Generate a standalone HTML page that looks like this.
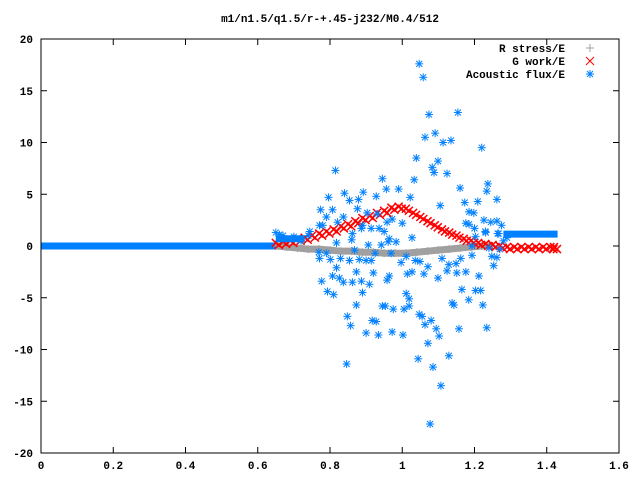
<!DOCTYPE html>
<html><head><meta charset="utf-8"><style>
body{margin:0;background:#fff}
svg{display:block}
text{font-family:"Liberation Mono",monospace;font-weight:bold;font-size:11px;fill:#000}
</style></head><body>
<svg id="chart" width="640" height="480" xmlns="http://www.w3.org/2000/svg">
<text x="330" y="22" text-anchor="middle">m1/n1.5/q1.5/r-+.45-j232/M0.4/512</text>
<g id="axes"></g>
<g id="series"></g>
<rect x="41" y="39" width="578" height="414" fill="none" stroke="#000" stroke-width="1"/>
<g>
<text x="565" y="52" text-anchor="end">R stress/E</text>
<text x="565" y="65" text-anchor="end">G work/E</text>
<text x="565" y="78" text-anchor="end">Acoustic flux/E</text>
<g stroke="#a0a0a0"><line x1="586" y1="48" x2="594" y2="48"/><line x1="590" y1="44" x2="590" y2="52"/></g>
<g stroke="#ff0000"><line x1="586" y1="57" x2="594" y2="65"/><line x1="586" y1="65" x2="594" y2="57"/></g>
<g stroke="#0080ff"><line x1="586" y1="74" x2="594" y2="74"/><line x1="590" y1="70" x2="590" y2="78"/><line x1="587" y1="71" x2="593" y2="77"/><line x1="587" y1="77" x2="593" y2="71"/></g>
</g>
</svg>
<script>
const xTicks=[0,0.2,0.4,0.6,0.8,1,1.2,1.4,1.6];
const xTickLabels=["0","0.2","0.4","0.6","0.8","1","1.2","1.4","1.6"];
const yTicks=[-20,-15,-10,-5,0,5,10,15,20];
const yTickLabels=["-20","-15","-10","-5","0","5","10","15","20"];
// G work/E sampled every 0.02 from 0.65
const gX=[0.65,0.67,0.69,0.71,0.73,0.75,0.77,0.79,0.81,0.83,0.85,0.87,0.89,0.91,0.93,0.95,0.97,0.99,1.01,1.03,1.05,1.07,1.09,1.11,1.13,1.15,1.17,1.19,1.21,1.23,1.25,1.27,1.29,1.31,1.33,1.35,1.37,1.39,1.41,1.42];
const gY=[0.3,0.4,0.5,0.7,0.8,1.0,1.2,1.4,1.6,1.9,2.1,2.4,2.7,2.9,3.2,3.4,3.7,3.8,3.6,3.2,2.8,2.4,2.0,1.6,1.3,1.0,0.7,0.5,0.3,0.2,0.1,0,-0.1,-0.1,-0.1,-0.1,-0.1,-0.1,-0.1,-0.1];
// R stress/E
const rX=[0.65,0.68,0.71,0.74,0.77,0.8,0.83,0.86,0.89,0.92,0.95,0.98,1.01,1.04,1.07,1.1,1.13,1.16,1.19,1.22,1.25];
const rY=[0,-0.1,-0.2,-0.3,-0.3,-0.4,-0.5,-0.5,-0.6,-0.6,-0.7,-0.7,-0.7,-0.6,-0.5,-0.4,-0.3,-0.2,-0.1,0,0];
// Acoustic flux/E dense flat segments
const aFlatLeftX=[0,0.65];const aFlatLeftY=[0,0];
const aFlatMidX=[0.65,0.73];const aFlatMidY=[0.7,0.7];
const aFlatRightX=[1.28,1.43];const aFlatRightY=[1.15,1.15];
// Acoustic flux/E scatter
const aX=[1.047,1.058,1.074,1.154,1.063,1.091,1.113,1.135,1.22,1.039,1.099,1.083,1.088,1.124,0.815,0.945,1.033,0.956,0.99,1.16,1.237,1.234,0.796,0.84,0.854,0.879,0.892,0.928,1.022,1.173,1.209,1.262,1.105,0.774,0.807,0.876,1.185,1.198,0.79,0.837,0.903,0.931,0.821,0.771,0.78,0.89,0.958,0.972,1.0,1.176,1.185,1.226,1.245,1.262,1.275,0.744,0.862,0.887,0.914,0.936,0.95,1.23,1.2,1.267,0.65,0.66,0.67,1.027,0.964,0.818,0.86,0.906,0.942,0.961,0.983,1.203,1.231,1.264,0.769,0.79,0.868,0.925,0.969,1.193,1.24,0.771,0.801,0.829,0.854,0.881,0.9,0.914,1.011,0.997,1.036,1.049,1.071,1.11,1.129,1.149,1.162,1.193,1.248,1.262,1.253,0.818,0.873,0.92,0.964,0.958,1.014,1.027,1.06,1.099,1.124,1.151,1.176,1.212,0.777,0.807,0.826,0.837,0.862,0.887,0.909,0.793,0.81,0.89,1.011,1.019,1.165,1.203,1.217,0.873,0.945,0.953,0.975,1.005,1.019,1.047,1.055,1.138,1.143,1.184,1.223,0.848,0.917,0.928,1.08,0.857,1.063,1.094,1.157,1.234,0.9,0.934,0.972,1.002,1.102,1.071,1.129,1.044,0.846,1.085,1.107,1.077,0.7,0.72,0.74,1.28,1.27,1.29];
const aY=[17.6,16.3,12.7,12.9,10.5,10.9,10.0,10.2,9.5,8.5,8.2,7.6,7.1,7.0,7.3,6.5,6.4,5.5,5.5,5.6,6.0,5.3,4.7,5.1,4.4,4.5,5.2,4.8,4.7,4.2,4.3,4.5,3.9,3.5,3.5,3.6,3.3,3.2,2.8,2.8,3.2,3.1,2.3,2.0,2.0,2.0,2.3,2.6,2.2,2.2,2.1,2.5,2.3,2.4,2.0,1.4,1.2,1.7,1.7,1.7,1.4,1.4,1.7,1.2,1.3,1.1,1.0,0.8,0.7,0.3,0.6,0.1,0.1,0.4,0.4,0.9,1.3,1.2,-0.6,-0.7,-0.4,-0.7,-0.7,0,-0.2,-1.2,-1.3,-1.2,-1.4,-1.3,-1.4,-1.4,-1.0,-1.6,-1.4,-1.5,-2.0,-1.2,-1.8,-1.7,-1.2,-0.9,-1.0,-1.1,-1.9,-2.1,-2.5,-2.6,-2.9,-3.3,-2.7,-2.5,-2.7,-3.1,-2.4,-2.6,-2.5,-2.9,-3.4,-2.9,-3.1,-3.5,-3.5,-3.4,-3.7,-4.4,-4.7,-4.5,-4.6,-5.1,-4.2,-4.3,-4.3,-5.7,-5.8,-5.8,-6.1,-6.1,-5.8,-6.6,-6.8,-5.5,-5.7,-5.2,-5.7,-6.8,-7.2,-7.3,-7.2,-7.7,-7.6,-8.0,-8.0,-7.9,-8.4,-8.6,-8.3,-8.6,-8.7,-9.4,-10.6,-10.9,-11.4,-11.7,-13.5,-17.2,0.9,0.5,1.0,0.5,-0.3,0.8];

const X0=41,X1=619,Y0=453,Y1=39;
function sx(v){return X0+(v-0)/(1.6-0)*(X1-X0);}
function sy(v){return Y0-(v+20)/40*(Y0-Y1);}
const NS="http://www.w3.org/2000/svg";
function mk(tag,attrs,parent){const e=document.createElementNS(NS,tag);for(const k in attrs)e.setAttribute(k,attrs[k]);parent.appendChild(e);return e;}
const axes=document.getElementById('axes');
xTicks.forEach((t,i)=>{
 const x=sx(t);
 const a=mk('line',{x1:x,y1:Y0,x2:x,y2:Y0-6,stroke:'#000'},axes);
 
 
 const b=mk('line',{x1:x,y1:Y1,x2:x,y2:Y1+6,stroke:'#000'},axes);
 
 
 const tx=mk('text',{x:x,y:Y0+16,'text-anchor':'middle'},axes);tx.textContent=xTickLabels[i];
 
 
});
yTicks.forEach((t,i)=>{
 const y=sy(t);
 const a=mk('line',{x1:X0,y1:y,x2:X0+6,y2:y,stroke:'#000'},axes);
 
 
 const b=mk('line',{x1:X1,y1:y,x2:X1-6,y2:y,stroke:'#000'},axes);
 
 
 const tx=mk('text',{x:X0-8,y:y+4,'text-anchor':'end'},axes);tx.textContent=yTickLabels[i];
 
 
});
const ser=document.getElementById('series');
function band(xs,ys,color,name){
 const p=mk('polyline',{points:xs.map((x,i)=>sx(x)+','+sy(ys[i])).join(' '),fill:'none',stroke:color,'stroke-width':7},ser);
 
 
}
function plus(x,y,c,g){mk('line',{x1:x-4,y1:y,x2:x+4,y2:y,stroke:c},g);mk('line',{x1:x,y1:y-4,x2:x,y2:y+4,stroke:c},g);}
function cross(x,y,c,g){mk('line',{x1:x-4,y1:y-4,x2:x+4,y2:y+4,stroke:c,'stroke-width':1.5},g);mk('line',{x1:x-4,y1:y+4,x2:x+4,y2:y-4,stroke:c,'stroke-width':1.5},g);}
// acoustic flat band
band(aFlatLeftX,aFlatLeftY,'#0080ff','acoustic-flux-flat-left');
// R stress
const gR=mk('g',{},ser);


band(rX,rY,'#a0a0a0','r-stress-band');
rX.forEach((x,i)=>plus(sx(x),sy(rY[i]),'#a0a0a0',gR));
// G work
const gG=mk('g',{},ser);


gX.forEach((x,i)=>{cross(sx(x),sy(gY[i]),'#ff0000',gG);cross(sx(x)+3,sy(gY[i])+2,'#ff0000',gG);});
// Acoustic
band(aFlatMidX,aFlatMidY,'#0080ff','acoustic-flux-flat-mid');
band(aFlatRightX,aFlatRightY,'#0080ff','acoustic-flux-flat-right');
const gA=mk('g',{},ser);


aX.forEach((x,i)=>{const X=sx(x),Y=sy(aY[i]);plus(X,Y,'#0080ff',gA);mk('line',{x1:X-3,y1:Y-3,x2:X+3,y2:Y+3,stroke:'#0080ff'},gA);mk('line',{x1:X-3,y1:Y+3,x2:X+3,y2:Y-3,stroke:'#0080ff'},gA);});
</script>
</body></html>
